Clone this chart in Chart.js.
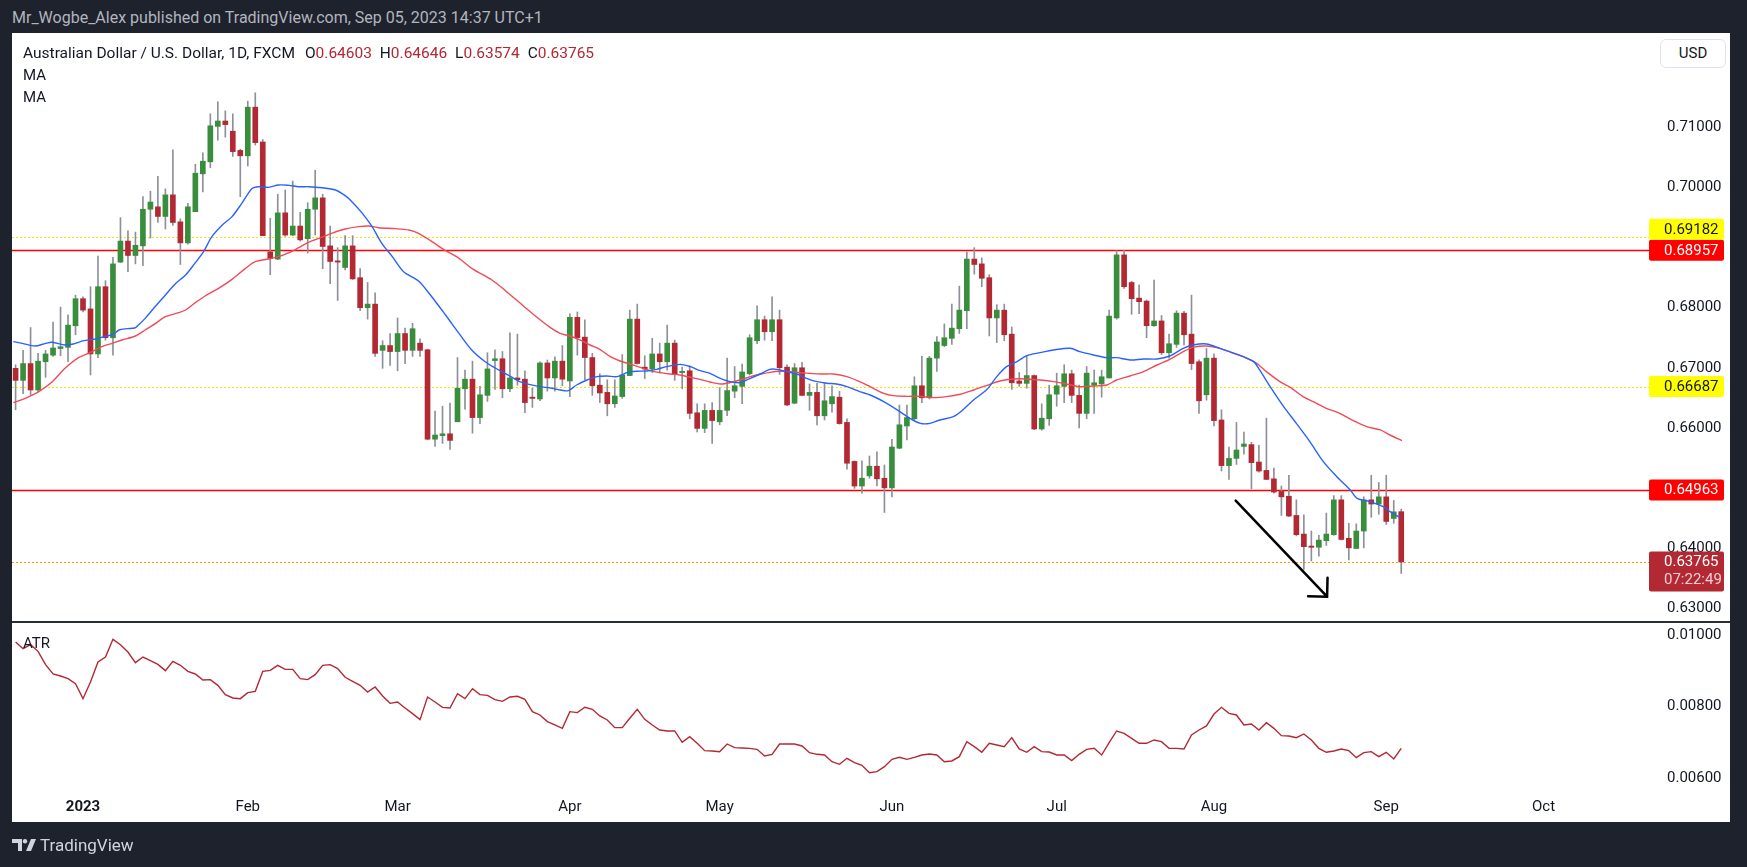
<!DOCTYPE html>
<html>
<head>
<meta charset="utf-8">
<title>AUD/USD 1D</title>
<script src="https://cdn.jsdelivr.net/npm/chart.js@4.4.0/dist/chart.umd.min.js"></script>
<style>
  body { margin: 0; width: 1747px; height: 867px; background: #1e222d; position: relative; overflow: hidden;
         font-family: Roboto, "Noto Sans", sans-serif; }
  .abs { position: absolute; white-space: nowrap; }
  #header { left: 12px; top: 7px; color: #b2b5be; font-size: 16px; line-height: 22px; }
  #frame { left: 12px; top: 33px; width: 1718px; height: 789px; background: #fff; }
  #mainWrap { left: 12px; top: 33px; }
  #sep { left: 12px; top: 621px; width: 1718px; height: 2px; background: #2a2e39; }
  #atrWrap { left: 12px; top: 622px; }
  .legend { left: 23px; color: #131722; font-size: 15px; line-height: 20px; }
  #title { font-size: 15.5px; }
  #title .ohlc { margin-left: 10px; }
  #title .val { color: #b22833; margin-right: 4px; }
  #usd { left: 1660px; top: 39px; width: 66px; height: 29px; box-sizing: border-box; border: 1px solid #e0e3eb;
         border-radius: 6px; font-size: 15px; line-height: 27px; text-align: center; color: #131722; background: #fff; }
  #footer { left: 40px; top: 835px; color: #d1d4dc; font-size: 17px; line-height: 20px; }
  #logo { left: 12px; top: 839px; }
</style>
</head>
<body>
<div id="header" class="abs">Mr_Wogbe_Alex published on TradingView.com, Sep 05, 2023 14:37 UTC+1</div>
<div id="frame" class="abs"></div>
<div id="mainWrap" class="abs"><canvas id="mainChart" width="1718" height="588"></canvas></div>
<div id="sep" class="abs"></div>
<div id="atrWrap" class="abs"><canvas id="atrChart" width="1718" height="200"></canvas></div>
<div id="title" class="abs legend" style="top:43px"></div>
<div class="abs legend" style="top:65px">MA</div>
<div class="abs legend" style="top:87px">MA</div>
<div class="abs legend" style="top:633px">ATR</div>
<div id="usd" class="abs">USD</div>
<svg id="logo" class="abs" width="24" height="13" viewBox="0 0 24 13">
  <path d="M0 0h10v12H6V4H0z" fill="#d1d4dc"/>
  <circle cx="13" cy="2.2" r="2.2" fill="#d1d4dc"/>
  <path d="M19 0h5l-5 12h-5z" fill="#d1d4dc"/>
</svg>
<div id="footer" class="abs">TradingView</div>

<script>
// ===== AUD/USD daily, FXCM, Dec 2022 - Sep 5 2023 =====

const FONT = 'Roboto, "Noto Sans", sans-serif';

// bar index 0 = Jan 2 2023, one step per trading day
const firstBar = -9;

const opens = [
  0.6699, 0.6679, 0.6707, 0.6663, 0.6710, 0.6721, 0.6732, 0.6734, 0.6770,
  0.6815, 0.6798, 0.6723, 0.6835, 0.6750, 0.6876, 0.6911, 0.6887, 0.6903, 0.6964,
  0.6968, 0.6952, 0.6988, 0.6943, 0.6908, 0.6960, 0.7023, 0.7043, 0.7102, 0.7111,
  0.7094, 0.7062, 0.7053, 0.7134, 0.7076, 0.6893, 0.6881, 0.6958, 0.6921, 0.6936,
  0.6915, 0.6964, 0.6983, 0.6903, 0.6878, 0.6867, 0.6903, 0.6850, 0.6800, 0.6806,
  0.6729, 0.6737, 0.6727, 0.6757, 0.6729, 0.6741, 0.6730, 0.6581, 0.6587, 0.6590,
  0.6610, 0.6665, 0.6681, 0.6617, 0.6654, 0.6712, 0.6715, 0.6665, 0.6683, 0.6681,
  0.6651, 0.6648, 0.6708, 0.6683, 0.6711, 0.6678, 0.6784, 0.6751, 0.6717, 0.6671,
  0.6659, 0.6640, 0.6652, 0.6687, 0.6781, 0.6701, 0.6698, 0.6723, 0.6710, 0.6741,
  0.6692, 0.6695, 0.6625, 0.6599, 0.6629, 0.6610, 0.6629, 0.6661, 0.6669, 0.6690,
  0.6745, 0.6780, 0.6760, 0.6780, 0.6701, 0.6641, 0.6700, 0.6654, 0.6659, 0.6620,
  0.6640, 0.6651, 0.6609, 0.6544, 0.6503, 0.6520, 0.6536, 0.6516, 0.6500, 0.6566,
  0.6603, 0.6615, 0.6670, 0.6650, 0.6716, 0.6737, 0.6749, 0.6765, 0.6795, 0.6881,
  0.6873, 0.6850, 0.6783, 0.6796, 0.6756, 0.6678, 0.6674, 0.6687, 0.6598, 0.6615,
  0.6656, 0.6669, 0.6690, 0.6654, 0.6624, 0.6671, 0.6673, 0.6683, 0.6783, 0.6888,
  0.6842, 0.6816, 0.6811, 0.6770, 0.6778, 0.6725, 0.6739, 0.6791, 0.6756, 0.6710,
  0.6655, 0.6716, 0.6613, 0.6537, 0.6549, 0.6569, 0.6572, 0.6543, 0.6529, 0.6515,
  0.6494, 0.6486, 0.6454, 0.6423, 0.6403, 0.6401, 0.6412, 0.6422, 0.6480, 0.6416,
  0.6399, 0.6428, 0.6480, 0.6473, 0.6485, 0.6449, 0.64603
];

const highs = [
  0.6705, 0.6729, 0.6767, 0.6724, 0.6729, 0.6776, 0.6801, 0.6788, 0.6821,
  0.6818, 0.6835, 0.6886, 0.6845, 0.6884, 0.6950, 0.6928, 0.6926, 0.6985, 0.6994,
  0.7019, 0.6998, 0.7063, 0.6948, 0.6974, 0.7039, 0.7058, 0.7123, 0.7143, 0.7128,
  0.7123, 0.7064, 0.7144, 0.7158, 0.7080, 0.6949, 0.6989, 0.6996, 0.7011, 0.6959,
  0.6975, 0.7029, 0.6989, 0.6936, 0.6900, 0.6920, 0.6920, 0.6865, 0.6842, 0.6825,
  0.6745, 0.6757, 0.6783, 0.6766, 0.6774, 0.6748, 0.6731, 0.6628, 0.6636, 0.6641,
  0.6717, 0.6696, 0.6711, 0.6669, 0.6725, 0.6730, 0.6727, 0.6758, 0.6756, 0.6695,
  0.6666, 0.6710, 0.6713, 0.6718, 0.6737, 0.6790, 0.6793, 0.6780, 0.6724, 0.6690,
  0.6680, 0.6680, 0.6722, 0.6796, 0.6806, 0.6720, 0.6749, 0.6741, 0.6771, 0.6746,
  0.6701, 0.6703, 0.6640, 0.6640, 0.6642, 0.6667, 0.6716, 0.6702, 0.6706, 0.6755,
  0.6803, 0.6786, 0.6818, 0.6796, 0.6705, 0.6707, 0.6709, 0.6673, 0.6674, 0.6675,
  0.6670, 0.6661, 0.6615, 0.6545, 0.6545, 0.6553, 0.6560, 0.6538, 0.6581, 0.6638,
  0.6638, 0.6685, 0.6719, 0.6719, 0.6752, 0.6773, 0.6806, 0.6836, 0.6893, 0.6900,
  0.6883, 0.6855, 0.6805, 0.6806, 0.6768, 0.6692, 0.6720, 0.6688, 0.6640, 0.6671,
  0.6691, 0.6705, 0.6696, 0.6671, 0.6702, 0.6696, 0.6696, 0.6796, 0.6895, 0.6895,
  0.6844, 0.6838, 0.6813, 0.6846, 0.6787, 0.6756, 0.6795, 0.6794, 0.6821, 0.6713,
  0.6732, 0.6723, 0.6630, 0.6568, 0.6609, 0.6593, 0.6576, 0.6571, 0.6616, 0.6533,
  0.6503, 0.6521, 0.6480, 0.6455, 0.6428, 0.6421, 0.6458, 0.6487, 0.6487, 0.6441,
  0.6440, 0.6485, 0.6521, 0.6509, 0.6521, 0.6479, 0.64646
];

const lows = [
  0.6630, 0.6657, 0.6655, 0.6660, 0.6684, 0.6719, 0.6720, 0.6710, 0.6755,
  0.6793, 0.6688, 0.6717, 0.6746, 0.6721, 0.6875, 0.6860, 0.6873, 0.6870, 0.6916,
  0.6942, 0.6931, 0.6937, 0.6872, 0.6906, 0.6960, 0.6993, 0.7033, 0.7079, 0.7084,
  0.7052, 0.6985, 0.7036, 0.7071, 0.6920, 0.6855, 0.6880, 0.6919, 0.6920, 0.6911,
  0.6891, 0.6921, 0.6865, 0.6840, 0.6812, 0.6863, 0.6847, 0.6795, 0.6781, 0.6719,
  0.6699, 0.6704, 0.6695, 0.6707, 0.6719, 0.6719, 0.6580, 0.6569, 0.6574, 0.6564,
  0.6610, 0.6631, 0.6591, 0.6607, 0.6644, 0.6664, 0.6650, 0.6660, 0.6671, 0.6625,
  0.6634, 0.6645, 0.6661, 0.6661, 0.6670, 0.6652, 0.6721, 0.6680, 0.6654, 0.6642,
  0.6620, 0.6634, 0.6649, 0.6687, 0.6706, 0.6682, 0.6692, 0.6691, 0.6696, 0.6679,
  0.6665, 0.6615, 0.6593, 0.6592, 0.6574, 0.6605, 0.6620, 0.6650, 0.6640, 0.6688,
  0.6740, 0.6746, 0.6745, 0.6689, 0.6637, 0.6640, 0.6653, 0.6629, 0.6605, 0.6613,
  0.6626, 0.6606, 0.6531, 0.6499, 0.6491, 0.6516, 0.6503, 0.6459, 0.6485, 0.6565,
  0.6580, 0.6613, 0.6642, 0.6648, 0.6694, 0.6735, 0.6739, 0.6757, 0.6765, 0.6856,
  0.6835, 0.6753, 0.6742, 0.6745, 0.6664, 0.6669, 0.6666, 0.6597, 0.6596, 0.6604,
  0.6636, 0.6642, 0.6642, 0.6600, 0.6615, 0.6624, 0.6651, 0.6683, 0.6781, 0.6832,
  0.6789, 0.6790, 0.6750, 0.6769, 0.6722, 0.6716, 0.6734, 0.6738, 0.6697, 0.6624,
  0.6646, 0.6603, 0.6528, 0.6514, 0.6539, 0.6556, 0.6498, 0.6526, 0.6514, 0.6491,
  0.6454, 0.6452, 0.6420, 0.6364, 0.6378, 0.6386, 0.6404, 0.6421, 0.6413, 0.6380,
  0.6399, 0.6400, 0.6451, 0.6456, 0.6439, 0.6441, 0.63574
];

const closes = [
  0.6679, 0.6707, 0.6663, 0.6711, 0.6723, 0.6733, 0.6735, 0.6771, 0.6815,
  0.6796, 0.6723, 0.6835, 0.6750, 0.6873, 0.6911, 0.6887, 0.6904, 0.6964, 0.6976,
  0.6952, 0.6988, 0.6942, 0.6908, 0.6968, 0.7024, 0.7044, 0.7103, 0.7111, 0.7105,
  0.7060, 0.7053, 0.7134, 0.7075, 0.6920, 0.6882, 0.6958, 0.6921, 0.6936, 0.6913,
  0.6964, 0.6983, 0.6902, 0.6877, 0.6876, 0.6903, 0.6848, 0.6800, 0.6806, 0.6724,
  0.6737, 0.6727, 0.6757, 0.6729, 0.6765, 0.6729, 0.6581, 0.6588, 0.6590, 0.6579,
  0.6666, 0.6681, 0.6617, 0.6655, 0.6698, 0.6715, 0.6665, 0.6683, 0.6680, 0.6642,
  0.6649, 0.6708, 0.6683, 0.6711, 0.6681, 0.6784, 0.6750, 0.6717, 0.6670, 0.6658,
  0.6640, 0.6653, 0.6688, 0.6781, 0.6707, 0.6698, 0.6723, 0.6710, 0.6741, 0.6689,
  0.6694, 0.6624, 0.6599, 0.6629, 0.6612, 0.6629, 0.6662, 0.6670, 0.6693, 0.6750,
  0.6780, 0.6760, 0.6780, 0.6700, 0.6638, 0.6700, 0.6654, 0.6659, 0.6620, 0.6645,
  0.6652, 0.6607, 0.6541, 0.6503, 0.6516, 0.6536, 0.6515, 0.6500, 0.6568, 0.6605,
  0.6617, 0.6670, 0.6650, 0.6716, 0.6743, 0.6750, 0.6766, 0.6796, 0.6881, 0.6872,
  0.6849, 0.6783, 0.6796, 0.6755, 0.6675, 0.6674, 0.6687, 0.6598, 0.6616, 0.6655,
  0.6670, 0.6690, 0.6654, 0.6624, 0.6691, 0.6675, 0.6685, 0.6786, 0.6888, 0.6835,
  0.6815, 0.6810, 0.6770, 0.6778, 0.6725, 0.6740, 0.6791, 0.6755, 0.6707, 0.6645,
  0.6716, 0.6612, 0.6537, 0.6549, 0.6563, 0.6573, 0.6542, 0.6528, 0.6514, 0.6493,
  0.6485, 0.6453, 0.6422, 0.6402, 0.6401, 0.6413, 0.6423, 0.6480, 0.6414, 0.6400,
  0.6428, 0.6480, 0.6473, 0.6485, 0.6444, 0.6460, 0.63765
];

// ATR, one value per bar
const atrValues = [
  0.009805, 0.009619, 0.009730, 0.009544, 0.009172, 0.008912, 0.008856, 0.008781, 0.008642,
  0.008223, 0.008688, 0.009247, 0.009386, 0.009879, 0.009730, 0.009526, 0.009228, 0.009386, 0.009284,
  0.009181, 0.009005, 0.009265, 0.009154, 0.008986, 0.008912, 0.008744, 0.008754, 0.008595, 0.008335,
  0.008242, 0.008223, 0.008391, 0.008428, 0.008986, 0.009014, 0.009154, 0.009042, 0.009042, 0.008781,
  0.008754, 0.008893, 0.009154, 0.009172, 0.009061, 0.008819, 0.008707, 0.008595, 0.008409, 0.008549,
  0.008298, 0.008093, 0.008130, 0.007963, 0.007805, 0.007637, 0.008270, 0.008130, 0.007981, 0.007963,
  0.008363, 0.008223, 0.008502, 0.008335, 0.008316, 0.008195, 0.008149, 0.008270, 0.008289, 0.008205,
  0.007861, 0.007768, 0.007582, 0.007489, 0.007395, 0.007861, 0.007833, 0.007982, 0.007926, 0.007740,
  0.007628, 0.007414, 0.007414, 0.007675, 0.007926, 0.007647, 0.007489, 0.007349, 0.007321, 0.007321,
  0.007005, 0.007163, 0.006977, 0.006772, 0.006763, 0.006744, 0.006958, 0.006856, 0.006847, 0.006837,
  0.006809, 0.006623, 0.006670, 0.006958, 0.006958, 0.006958, 0.006902, 0.006716, 0.006670, 0.006651,
  0.006465, 0.006391, 0.006558, 0.006437, 0.006363, 0.006158, 0.006186, 0.006326, 0.006530, 0.006586,
  0.006530, 0.006586, 0.006651, 0.006679, 0.006651, 0.006465, 0.006484, 0.006605, 0.007023, 0.006884,
  0.006726, 0.006977, 0.006930, 0.006884, 0.007135, 0.006819, 0.006726, 0.006884, 0.006744, 0.006735,
  0.006651, 0.006651, 0.006493, 0.006670, 0.006809, 0.006837, 0.006651, 0.006995, 0.007321, 0.007256,
  0.007116, 0.006977, 0.006977, 0.007070, 0.007023, 0.006837, 0.006837, 0.006819, 0.007209, 0.007349,
  0.007461, 0.007795, 0.007982, 0.007814, 0.007768, 0.007489, 0.007516, 0.007349, 0.007554, 0.007395,
  0.007191, 0.007182, 0.007135, 0.007237, 0.007070, 0.006837, 0.006726, 0.006763, 0.006819, 0.006772,
  0.006577, 0.006716, 0.006744, 0.006605, 0.006726, 0.006540, 0.006837
];

// moving averages (bar position, value)
const maFastX = [
  -9.3, -8.1, -6.4, -5.0, -4.1, -2.4, -1.3, 0.1, 1.4, 2.8, 4.1, 4.8, 5.9, 6.9, 7.4, 8.3, 9.7, 11.0, 12.3, 13.7,
  15.0, 16.1, 17.2, 18.6, 19.9, 21.2, 22.6, 23.5, 24.8, 26.1, 27.5, 28.8, 30.1, 31.9, 33.7, 35.0, 35.9, 37.3, 38.6, 39.9,
  41.3, 42.8, 44.8, 46.2, 48.4, 50.2, 51.9, 53.7, 55.5, 57.3,
  58.3, 59.7, 61.0, 62.4, 63.7, 64.8, 65.9, 67.3, 68.6, 69.9, 71.3, 72.6, 73.9, 75.3, 76.6, 77.9, 79.7, 81.1, 82.4, 83.7,
  85.1, 86.4, 87.7, 89.1, 90.4, 91.7, 92.6, 94.0, 95.3, 96.6, 98.0, 99.3, 100.6, 102.0, 103.7, 105.1, 106.9, 108.6, 110.4, 111.8,
  113.1, 114.4, 116.2, 117.1, 118.9, 120.7,
  122.0, 123.3, 124.7, 126.0, 127.8, 129.6, 131.8, 133.1, 134.9, 136.7, 138.0, 139.8, 141.6, 143.4, 145.1, 146.9, 148.2, 150.0, 151.8, 153.1,
  154.9, 156.3, 157.1, 158.5, 160.3, 162.0, 163.8, 165.6, 167.4, 169.2, 170.1, 171.8, 173.6, 174.5, 175.8
];
const maFastY = [
  0.67435, 0.67407, 0.67362, 0.67407, 0.67424, 0.67379, 0.67396, 0.67451, 0.67474, 0.67518, 0.67562, 0.67629, 0.67651, 0.67662, 0.67712, 0.67823, 0.68029, 0.68212, 0.68395, 0.68545,
  0.68750, 0.68934, 0.69183, 0.69378, 0.69517, 0.69739, 0.69988, 0.70016, 0.70005, 0.70044, 0.70038, 0.70016, 0.70016, 0.69999, 0.69961, 0.69866, 0.69766, 0.69572, 0.69350, 0.69072,
  0.68850, 0.68600, 0.68445, 0.68240, 0.67879, 0.67573, 0.67296, 0.67101, 0.66963, 0.66840,
  0.66768, 0.66718, 0.66685, 0.66663, 0.66630, 0.66619, 0.66713, 0.66796, 0.66852, 0.66863, 0.66852, 0.66918, 0.66941, 0.66946, 0.66974, 0.67018, 0.67057, 0.67018, 0.66952, 0.66907,
  0.66824, 0.66768, 0.66752, 0.66824, 0.66896, 0.66974, 0.66974, 0.66935, 0.66896, 0.66824, 0.66768, 0.66741, 0.66730, 0.66685, 0.66602, 0.66546, 0.66435, 0.66308, 0.66158, 0.66074,
  0.66074, 0.66130, 0.66185, 0.66258, 0.66463, 0.66641,
  0.66852, 0.67018, 0.67102, 0.67202, 0.67252, 0.67296, 0.67324, 0.67268, 0.67213, 0.67168, 0.67168, 0.67130, 0.67146, 0.67146, 0.67196, 0.67324, 0.67379, 0.67396, 0.67324, 0.67268,
  0.67185, 0.67102, 0.66963, 0.66685, 0.66352, 0.66074, 0.65769, 0.65436, 0.65186, 0.64964, 0.64825, 0.64770, 0.64686, 0.64603, 0.64509
];
const maSlowX = [
  -9.3, -7.7, -5.9, -4.1, -2.4, -0.6, 1.2, 2.5, 3.9, 5.2, 7.0, 8.3, 9.7, 11.0, 12.8, 13.7, 15.0, 16.3, 18.1, 19.9,
  21.7, 23.0, 24.8, 26.1, 27.5, 28.8, 30.1, 31.5, 33.2, 35.0, 36.8, 38.1, 39.5, 41.7, 43.5, 44.8, 46.6, 48.4, 50.2, 51.9,
  54.6, 56.4,
  58.8, 60.6, 62.4, 63.7, 65.0, 66.4, 67.7, 69.0, 70.4, 71.7, 73.0, 74.4, 75.7, 77.1, 78.4, 79.7, 81.1, 82.4, 83.7, 85.1,
  86.4, 87.7, 89.1, 90.4, 91.7, 93.1, 94.4, 95.7, 97.1, 98.4, 100.2, 102.0, 103.7, 105.1, 106.9, 108.2, 110.0, 111.8, 113.5, 115.3,
  117.1, 118.9, 120.7,
  122.4, 124.2, 126.0, 127.8, 129.6, 131.3, 133.1, 134.9, 136.7, 138.0, 139.8, 141.6, 143.4, 145.1, 146.9, 148.2, 150.0, 151.8, 153.6, 154.9,
  156.7, 158.0, 159.8, 161.2, 162.9, 164.7, 166.0, 167.8, 169.6, 171.4, 173.2, 174.5, 176.1
];
const maSlowY = [
  0.66419, 0.66491, 0.66602, 0.66768, 0.66991, 0.67168, 0.67268, 0.67351, 0.67407, 0.67462, 0.67529, 0.67629, 0.67740, 0.67851, 0.67918, 0.67962, 0.68084, 0.68195, 0.68323, 0.68473,
  0.68656, 0.68767, 0.68811, 0.68850, 0.68917, 0.69000, 0.69089, 0.69156, 0.69239, 0.69311, 0.69350, 0.69361, 0.69333, 0.69317, 0.69294, 0.69239, 0.69100, 0.68950, 0.68823, 0.68656,
  0.68462, 0.68284,
  0.68029, 0.67840, 0.67668, 0.67573, 0.67529, 0.67462, 0.67379, 0.67307, 0.67185, 0.67113, 0.67063, 0.67007, 0.66952, 0.66918, 0.66896, 0.66880, 0.66841, 0.66807, 0.66763, 0.66730,
  0.66752, 0.66796, 0.66852, 0.66891, 0.66924, 0.66941, 0.66935, 0.66918, 0.66907, 0.66896, 0.66896, 0.66852, 0.66768, 0.66685, 0.66574, 0.66535, 0.66524, 0.66524, 0.66502, 0.66519,
  0.66558, 0.66630, 0.66707,
  0.66780, 0.66813, 0.66813, 0.66796, 0.66769, 0.66730, 0.66685, 0.66696, 0.66713, 0.66796, 0.66863, 0.66935, 0.67046, 0.67140, 0.67268, 0.67340, 0.67363, 0.67324, 0.67240, 0.67185,
  0.67074, 0.66935, 0.66769, 0.66674, 0.66519, 0.66408, 0.66324, 0.66241, 0.66119, 0.66019, 0.65964, 0.65880, 0.65786
];

// time axis
const monthTicks = [0, 22, 42, 65, 85, 108, 130, 151, 174, 195];
const monthLabels = ['2023', 'Feb', 'Mar', 'Apr', 'May', 'Jun', 'Jul', 'Aug', 'Sep', 'Oct'];

// price axes
const priceTicks = [0.63, 0.64, 0.66, 0.67, 0.68, 0.70, 0.71];
const atrTicks = [0.006, 0.008, 0.010];

// horizontal levels drawn on the chart
const levelPrices = [0.69182, 0.68957, 0.66687, 0.64963, 0.63765];
const countdown = '07:22:49';

// trend arrow drawing: [bar, price]
const arrowFrom = [153.9, 0.64786];
const arrowTo = [166.1, 0.63188];

// ----- layout / styling -----
const X_MIN = -9.48, X_MAX = 209.08;
const PRICE_MIN = 0.627821, PRICE_MAX = 0.725756;
const ATR_MIN = 0.005618, ATR_MAX = 0.010363;
const AXIS_W = 81;
const UP = '#388e3c', DOWN = '#b22833', WICK = '#8d9098';
const TEXT = '#131722';

const levelStyles = [
    { color: '#f5e50a', width: 1, dash: [2, 2], box: '#ffff00', text: TEXT },
    { color: '#ff0000', width: 1.5, dash: [], box: '#ff0000', text: '#ffffff' },
    { color: '#f5e50a', width: 1, dash: [2, 2], box: '#ffff00', text: TEXT },
    { color: '#ff0000', width: 1.5, dash: [], box: '#ff0000', text: '#ffffff' },
    { color: '#ff9800', width: 1, dash: [2, 2], box: '#b22833', text: '#ffffff', extra: countdown }
];

const bars = opens.map((_, k) => firstBar + k);
const last = opens.length - 1;

document.getElementById('title').innerHTML =
    'Australian Dollar / U.S. Dollar, 1D, FXCM<span class="ohlc">O<span class="val">' + opens[last].toFixed(5) +
    '</span> H<span class="val">' + highs[last].toFixed(5) +
    '</span> L<span class="val">' + lows[last].toFixed(5) +
    '</span> C<span class="val">' + closes[last].toFixed(5) + '</span></span>';

Chart.defaults.font.family = FONT;
Chart.defaults.color = TEXT;

function fixedAxis(scale) {
    scale.width = AXIS_W;
    scale.paddingTop = 0;
    scale.paddingBottom = 0;
}

const levelsPlugin = {
    id: 'levels',
    beforeDatasetsDraw(chart) {
        const { ctx, chartArea: a, scales: { y } } = chart;
        levelPrices.forEach((p, k) => {
            const st = levelStyles[k];
            const py = Math.round(y.getPixelForValue(p)) + 0.5;
            ctx.save();
            ctx.strokeStyle = st.color;
            ctx.lineWidth = st.width;
            ctx.setLineDash(st.dash);
            ctx.beginPath();
            ctx.moveTo(a.left, py);
            ctx.lineTo(a.right, py);
            ctx.stroke();
            ctx.restore();
        });
    },
    afterDraw(chart) {
        const { ctx, chartArea: a, scales: { y } } = chart;
        const boxH = 21, boxW = 75;
        // lowest label first, push the others up when they collide
        const items = levelPrices.map((p, k) => ({ p, st: levelStyles[k], cy: y.getPixelForValue(p) }))
            .sort((m, n) => n.cy - m.cy);
        let limit = Infinity;
        items.forEach(it => {
            const h = it.st.extra ? boxH * 2 - 2 : boxH;
            let top = it.cy - boxH / 2;
            if (top + h > limit) top = limit - h;
            limit = top;
            ctx.save();
            ctx.fillStyle = it.st.box;
            ctx.beginPath();
            ctx.roundRect(a.right, top, boxW, h, 2);
            ctx.fill();
            ctx.font = '15px ' + FONT;
            ctx.textBaseline = 'middle';
            ctx.fillStyle = it.st.text;
            ctx.fillText(it.p.toFixed(5), a.right + 15, top + boxH / 2 + 0.5);
            if (it.st.extra) {
                ctx.fillStyle = 'rgba(255,255,255,0.78)';
                ctx.fillText(it.st.extra, a.right + 15, top + boxH / 2 + 18.5);
            }
            ctx.restore();
        });
    }
};

const arrowPlugin = {
    id: 'trendArrow',
    afterDatasetsDraw(chart) {
        const { ctx, scales: { x, y } } = chart;
        const x1 = x.getPixelForValue(arrowFrom[0]), y1 = y.getPixelForValue(arrowFrom[1]);
        const x2 = x.getPixelForValue(arrowTo[0]), y2 = y.getPixelForValue(arrowTo[1]);
        const ang = Math.atan2(y2 - y1, x2 - x1);
        const head = 19;
        ctx.save();
        ctx.strokeStyle = '#000';
        ctx.lineWidth = 2.5;
        ctx.lineCap = 'round';
        ctx.beginPath();
        ctx.moveTo(x1, y1);
        ctx.lineTo(x2, y2);
        ctx.moveTo(x2 + head * Math.cos(ang + Math.PI * 0.75), y2 + head * Math.sin(ang + Math.PI * 0.75));
        ctx.lineTo(x2, y2);
        ctx.lineTo(x2 + head * Math.cos(ang - Math.PI * 0.75), y2 + head * Math.sin(ang - Math.PI * 0.75));
        ctx.stroke();
        ctx.restore();
    }
};

// ----- main price pane -----
new Chart(document.getElementById('mainChart'), {
    type: 'bar',
    data: {
        datasets: [
            {
                type: 'line',
                label: 'MA fast',
                data: maFastX.map((x, k) => ({ x, y: maFastY[k] })),
                borderColor: '#2962ff',
                borderWidth: 1.4,
                pointRadius: 0,
                tension: 0.3,
                order: 0
            },
            {
                type: 'line',
                label: 'MA slow',
                data: maSlowX.map((x, k) => ({ x, y: maSlowY[k] })),
                borderColor: '#ef4b57',
                borderWidth: 1.4,
                pointRadius: 0,
                tension: 0.3,
                order: 0
            },
            {
                label: 'bodies',
                data: bars.map((x, k) => ({ x, y: [opens[k], closes[k]] })),
                backgroundColor: bars.map((_, k) => closes[k] >= opens[k] ? UP : DOWN),
                barThickness: 5,
                minBarLength: 1,
                grouped: false,
                order: 1
            },
            {
                label: 'wicks',
                data: bars.map((x, k) => ({ x, y: [lows[k], highs[k]] })),
                backgroundColor: WICK,
                barThickness: 1,
                grouped: false,
                order: 2
            }
        ]
    },
    options: {
        responsive: false,
        animation: false,
        events: [],
        layout: { padding: 0 },
        plugins: { legend: { display: false }, tooltip: { enabled: false } },
        scales: {
            x: { type: 'linear', min: X_MIN, max: X_MAX, display: false, offset: false },
            y: {
                position: 'right',
                min: PRICE_MIN,
                max: PRICE_MAX,
                grid: { display: false },
                border: { display: false },
                afterBuildTicks: s => { s.ticks = priceTicks.map(v => ({ value: v })); },
                afterFit: fixedAxis,
                ticks: { padding: 10, color: TEXT, font: { size: 15 }, callback: v => v.toFixed(5) }
            }
        }
    },
    plugins: [levelsPlugin, arrowPlugin]
});

// ----- ATR pane + time axis -----
new Chart(document.getElementById('atrChart'), {
    type: 'line',
    data: {
        datasets: [{
            label: 'ATR',
            data: bars.map((x, k) => ({ x, y: atrValues[k] })),
            borderColor: '#b22833',
            borderWidth: 1.4,
            pointRadius: 0,
            tension: 0
        }]
    },
    options: {
        responsive: false,
        animation: false,
        events: [],
        layout: { padding: 0 },
        plugins: { legend: { display: false }, tooltip: { enabled: false } },
        scales: {
            x: {
                type: 'linear',
                min: X_MIN,
                max: X_MAX,
                offset: false,
                grid: { display: false },
                border: { display: false },
                afterBuildTicks: s => { s.ticks = monthTicks.map(v => ({ value: v })); },
                afterFit: s => { s.height = 30; s.paddingLeft = 0; s.paddingRight = 0; },
                ticks: {
                    autoSkip: false,
                    maxRotation: 0,
                    padding: -2,
                    color: TEXT,
                    font: c => ({ size: 15, weight: c.tick && c.tick.value === 0 ? 'bold' : 'normal' }),
                    callback: (v, i) => monthLabels[i]
                }
            },
            y: {
                position: 'right',
                min: ATR_MIN,
                max: ATR_MAX,
                grid: { display: false },
                border: { display: false },
                afterBuildTicks: s => { s.ticks = atrTicks.map(v => ({ value: v })); },
                afterFit: fixedAxis,
                ticks: { padding: 10, color: TEXT, font: { size: 15 }, callback: v => v.toFixed(5) }
            }
        }
    }
});
</script>
</body>
</html>
